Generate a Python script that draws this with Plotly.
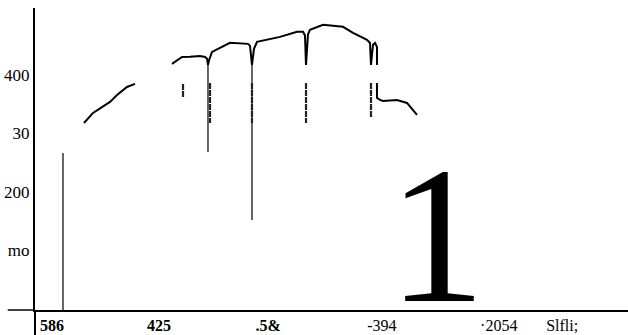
import plotly.graph_objects as go

# ---- data ----
# main spectrum trace (None separates segments)
spec_x = [8.26, 9.78, 12.65, 13.83, 15.51, 16.86, None,
          23.10, 23.78, 24.79, 26.14, 27.82, 28.67, 29.01, 29.17, 29.34, 29.85,
          32.88, 35.92, 36.26, 36.59, 36.93, 37.44, 41.32, 44.18, 45.19, 45.53,
          45.70, 46.04, 46.37, 48.57, 51.94, 53.63, 55.99, 56.49, 56.66, 57.00,
          57.34, 57.67, 57.67, None,
          57.67, 57.67, 58.18, 58.68, 61.05, 62.73, 64.42]
spec_y = [317.8, 335.0, 353.9, 365.9, 379.6, 384.8, None,
          419.1, 424.0, 431.1, 431.5, 432.8, 431.1, 428.0, 417.3, 425.0, 439.7,
          455.2, 453.5, 450.0, 417.3, 445.0, 456.9, 465.5, 474.1, 474.1, 468.0,
          417.3, 470.0, 477.5, 486.2, 482.7, 472.4, 460.4, 455.0, 417.3, 452.0,
          455.2, 448.0, 417.3, None,
          386.5, 360.7, 357.3, 355.6, 357.3, 352.1, 331.5]

# thin vertical lines (x, y_top, y_bottom)
thin_x = [4.72, 29.17, 36.59]
thin_top = [266.4, 417.3, 417.3]
thin_bot = [-3.0, 268.1, 151.5]

# thick broken band segments
thick_x = [24.96, 29.51, 36.59, 45.70, 56.66]
thick_top = [384.8, 386.5, 386.5, 386.5, 386.5]
thick_bot = [360.7, 317.8, 317.8, 317.8, 326.4]

# axis tick labels
y_tickvals = [100, 200, 300, 400]
y_ticktext = ["mo", "200", "30", "400"]
x_tickvals = [2.87, 20.9, 39.3, 58.5, 78.2, 88.9]
x_ticktext = ["<b>586</b>", "<b>425</b>", "<b>.5&</b>", "-394", "·2054", "Slfli;"]

big_label = "1"
big_label_x = 67.8
big_label_y = 125.7

# ---- figure ----
FONT = "Liberation Serif"
fig = go.Figure()

fig.add_trace(go.Scatter(x=spec_x, y=spec_y, mode="lines",
                         line=dict(color="black", width=2), connectgaps=False,
                         hoverinfo="skip"))

tx, ty = [], []
for x, a, b in zip(thin_x, thin_top, thin_bot):
    tx += [x, x, None]
    ty += [a, b, None]
fig.add_trace(go.Scatter(x=tx, y=ty, mode="lines",
                         line=dict(color="black", width=1.2), hoverinfo="skip"))

kx, ky = [], []
for x, a, b in zip(thick_x, thick_top, thick_bot):
    kx += [x, x, None]
    ky += [a, b, None]
fig.add_trace(go.Scatter(x=kx, y=ky, mode="lines",
                         line=dict(color="#222", width=2.2, dash="6px,1px"),
                         hoverinfo="skip"))

fig.add_annotation(x=big_label_x, y=big_label_y, text=big_label, showarrow=False,
                   xanchor="center", yanchor="middle",
                   font=dict(family=FONT, size=195, color="black"))

# axis-line extensions (y axis runs below the x axis, x axis runs left of y axis)
fig.add_shape(type="line", xref="paper", yref="paper", x0=0, x1=0, y0=0, y1=-0.09,
              line=dict(color="black", width=2))
fig.add_shape(type="line", xref="paper", yref="paper", x0=-0.046, x1=0, y0=0, y1=0,
              line=dict(color="black", width=1.5))

fig.update_layout(
    width=628, height=335,
    margin=dict(l=35, r=0, t=8, b=25),
    paper_bgcolor="white", plot_bgcolor="white",
    showlegend=False,
    font=dict(family=FONT, size=16, color="black"),
    xaxis=dict(range=[0, 100], showgrid=False, zeroline=False,
               showline=True, linecolor="black", linewidth=1.5,
               tickmode="array", tickvals=x_tickvals, ticktext=x_ticktext,
               ticks="", tickfont=dict(size=16)),
    yaxis=dict(range=[-3, 515], showgrid=False, zeroline=False,
               showline=True, linecolor="black", linewidth=2,
               tickmode="array", tickvals=y_tickvals, ticktext=y_ticktext,
               ticks="", tickfont=dict(size=17)),
)

fig.write_html("out.html", config={"displayModeBar": False, "staticPlot": True},
               post_script="document.body.style.margin='0';document.body.style.overflow='hidden';")
